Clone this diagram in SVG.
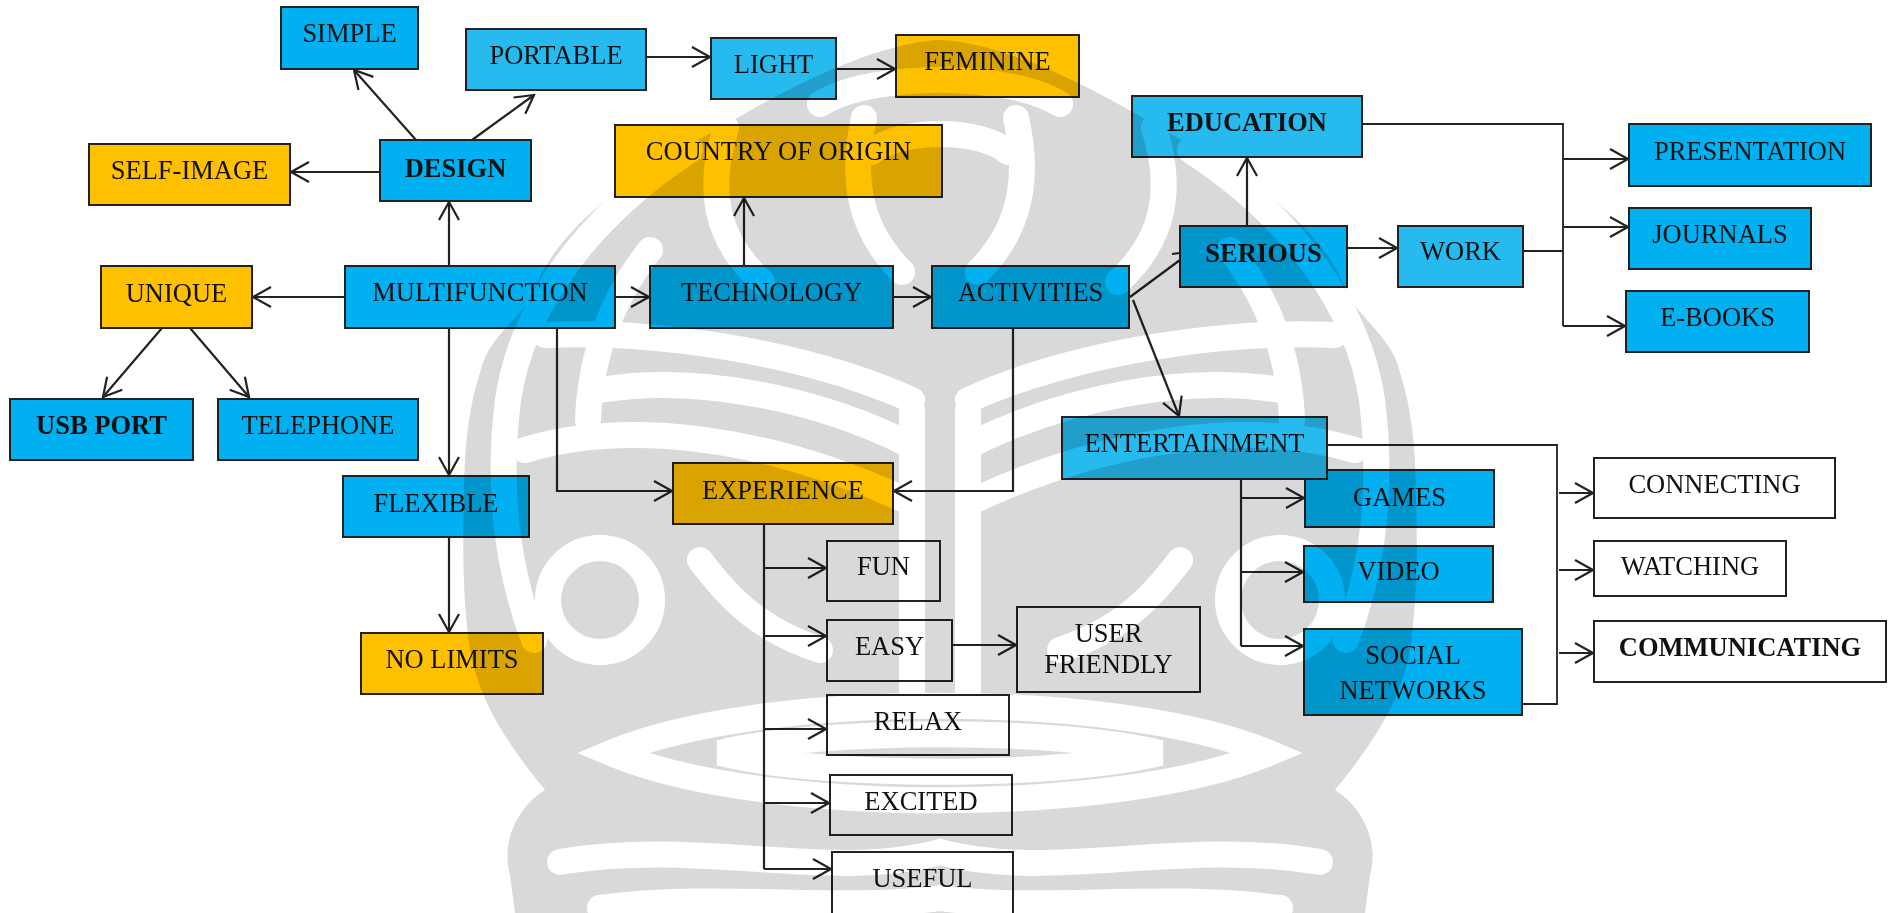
<svg xmlns="http://www.w3.org/2000/svg" width="1890" height="913" viewBox="0 0 1890 913">
  <defs>
    <marker id="ah" markerUnits="userSpaceOnUse" markerWidth="26" markerHeight="26" viewBox="-22 -13 26 26" refX="0" refY="0" orient="auto" overflow="visible">
      <path d="M-18,-10 L0,0 L-18,10" fill="none" stroke="#222" stroke-width="2.2"/>
    </marker>
    <style>
      .box rect { stroke: #222; stroke-width: 2; }
      .blue rect { fill: #00B0F0; }
      .lblue rect { fill: #27BAEF; }
      .gold rect { fill: #FFC000; }
      .white rect { fill: #FFFFFF; }
      .box text { font-family: "Liberation Serif", "Times New Roman", serif; font-size: 26.5px; text-anchor: middle; fill: #111; }
      .box.bold text { font-weight: bold; }
      #connectors path { fill: none; stroke: #222; stroke-width: 2.2; }
      #connectors .thin { stroke-width: 1.8; }
      #connectors .arrow { marker-end: url(#ah); }
      #watermark { mix-blend-mode: multiply; }
      #watermark .cut { fill: none; stroke: #FFFFFF; stroke-linecap: round; }
    </style>
  </defs>

  <rect width="1890" height="913" fill="#FFFFFF"/>

  <!-- connectors -->
  <g id="connectors">
    <path class="arrow" d="M416,140 L354,70"/>
    <path class="arrow" d="M472,140 L534,95"/>
    <path class="arrow" d="M380,172 L291,172"/>
    <path class="arrow" d="M449,266 L449,202"/>
    <path class="arrow" d="M345,297 L253,297"/>
    <path class="arrow" d="M162,328 L103,397"/>
    <path class="arrow" d="M190,328 L249,397"/>
    <path class="arrow" d="M449,328 L449,475"/>
    <path class="arrow" d="M449,537 L449,632"/>
    <path class="arrow" d="M557,328 L557,491 L672,491"/>
    <path class="arrow" d="M615,297 L649,297"/>
    <path class="arrow" d="M744,266 L744,198"/>
    <path class="arrow" d="M893,297 L931,297"/>
    <path class="arrow" d="M646,57 L710,57"/>
    <path class="arrow" d="M836,69 L895,69"/>
    <path class="arrow" d="M1013,328 L1013,491 L894,491"/>
    <path d="M1130,297 L1180,260"/>
    <path d="M1172,254 L1180,253"/>
    <path class="arrow" d="M1133,300 L1179,416"/>
    <path class="arrow" d="M1247,226 L1247,158"/>
    <path class="arrow" d="M1347,248 L1397,248"/>
    <path class="thin" d="M1362,124 L1563,124 L1563,326"/>
    <path class="thin" d="M1523,251 L1563,251"/>
    <path class="arrow" d="M1563,159 L1628,159"/>
    <path class="arrow" d="M1563,227 L1628,227"/>
    <path class="arrow" d="M1563,326 L1625,326"/>
    <path d="M764,524 L764,869"/>
    <path class="arrow" d="M764,568 L826,568"/>
    <path class="arrow" d="M764,636 L826,636"/>
    <path class="arrow" d="M764,729 L826,729"/>
    <path class="arrow" d="M764,803 L829,803"/>
    <path class="arrow" d="M764,869 L831,869"/>
    <path class="arrow" d="M952,645 L1016,645"/>
    <path d="M1241,479 L1241,646"/>
    <path class="arrow" d="M1241,498 L1304,498"/>
    <path class="arrow" d="M1241,572 L1303,572"/>
    <path class="arrow" d="M1241,646 L1303,646"/>
    <path class="thin" d="M1327,445 L1557,445 L1557,704 L1522,704"/>
    <path class="arrow" d="M1559,493 L1593,493"/>
    <path class="arrow" d="M1559,570 L1593,570"/>
    <path class="arrow" d="M1559,653 L1593,653"/>
  </g>

  <!-- nodes -->
  <g id="n-simple" class="box blue"><rect x="281" y="7" width="137" height="62"/><text x="349.5" y="42">SIMPLE</text></g>
  <g id="n-portable" class="box lblue"><rect x="466" y="29" width="180" height="61"/><text x="556" y="64">PORTABLE</text></g>
  <g id="n-light" class="box lblue"><rect x="711" y="38" width="125" height="61"/><text x="773.5" y="73">LIGHT</text></g>
  <g id="n-feminine" class="box gold"><rect x="896" y="35" width="183" height="62"/><text x="987.5" y="70">FEMININE</text></g>
  <g id="n-self-image" class="box gold"><rect x="89" y="144" width="201" height="61"/><text x="189.5" y="179">SELF-IMAGE</text></g>
  <g id="n-design" class="box blue bold"><rect x="380" y="140" width="151" height="61"/><text x="455.5" y="177">DESIGN</text></g>
  <g id="n-country" class="box gold"><rect x="615" y="125" width="327" height="72"/><text x="778.5" y="160">COUNTRY OF ORIGIN</text></g>
  <g id="n-education" class="box lblue bold"><rect x="1132" y="96" width="230" height="61"/><text x="1247" y="131">EDUCATION</text></g>
  <g id="n-presentation" class="box blue"><rect x="1629" y="124" width="242" height="62"/><text x="1750" y="160">PRESENTATION</text></g>
  <g id="n-journals" class="box blue"><rect x="1629" y="208" width="182" height="61"/><text x="1720" y="243">JOURNALS</text></g>
  <g id="n-ebooks" class="box blue"><rect x="1626" y="291" width="183" height="61"/><text x="1717.5" y="326">E-BOOKS</text></g>
  <g id="n-serious" class="box blue bold"><rect x="1180" y="226" width="167" height="61"/><text x="1263.5" y="262">SERIOUS</text></g>
  <g id="n-work" class="box lblue"><rect x="1398" y="226" width="125" height="61"/><text x="1460.5" y="260">WORK</text></g>
  <g id="n-unique" class="box gold"><rect x="101" y="266" width="151" height="62"/><text x="176.5" y="302">UNIQUE</text></g>
  <g id="n-multifunction" class="box blue"><rect x="345" y="266" width="270" height="62"/><text x="480" y="301">MULTIFUNCTION</text></g>
  <g id="n-technology" class="box blue"><rect x="650" y="266" width="243" height="62"/><text x="771.5" y="301">TECHNOLOGY</text></g>
  <g id="n-activities" class="box blue"><rect x="932" y="266" width="197" height="62"/><text x="1030.5" y="301">ACTIVITIES</text></g>
  <g id="n-usb" class="box blue bold"><rect x="10" y="399" width="183" height="61"/><text x="101.5" y="434">USB PORT</text></g>
  <g id="n-telephone" class="box blue"><rect x="218" y="399" width="200" height="61"/><text x="318" y="434">TELEPHONE</text></g>
  <g id="n-flexible" class="box blue"><rect x="343" y="476" width="186" height="61"/><text x="436" y="512">FLEXIBLE</text></g>
  <g id="n-nolimits" class="box gold"><rect x="361" y="633" width="182" height="61"/><text x="452" y="668">NO LIMITS</text></g>
  <g id="n-experience" class="box gold"><rect x="673" y="463" width="220" height="61"/><text x="783" y="499">EXPERIENCE</text></g>
  <g id="n-games" class="box blue"><rect x="1305" y="470" width="189" height="57"/><text x="1399.5" y="506">GAMES</text></g>
  <g id="n-entertainment" class="box lblue"><rect x="1062" y="417" width="265" height="62"/><text x="1194.5" y="452">ENTERTAINMENT</text></g>
  <g id="n-video" class="box blue"><rect x="1304" y="546" width="189" height="56"/><text x="1398.5" y="580">VIDEO</text></g>
  <g id="n-social" class="box blue"><rect x="1304" y="629" width="218" height="86"/><text x="1413" y="664">SOCIAL</text><text x="1413" y="699">NETWORKS</text></g>
  <g id="n-connecting" class="box white"><rect x="1594" y="458" width="241" height="60"/><text x="1714.5" y="493">CONNECTING</text></g>
  <g id="n-watching" class="box white"><rect x="1594" y="541" width="192" height="55"/><text x="1690" y="575">WATCHING</text></g>
  <g id="n-communicating" class="box white bold"><rect x="1594" y="621" width="292" height="61"/><text x="1740" y="656">COMMUNICATING</text></g>
  <g id="n-fun" class="box white"><rect x="827" y="541" width="113" height="60"/><text x="883.5" y="575">FUN</text></g>
  <g id="n-easy" class="box white"><rect x="827" y="620" width="125" height="61"/><text x="889.5" y="655">EASY</text></g>
  <g id="n-userfriendly" class="box white"><rect x="1017" y="607" width="183" height="85"/><text x="1108.5" y="642">USER</text><text x="1108.5" y="673">FRIENDLY</text></g>
  <g id="n-relax" class="box white"><rect x="827" y="695" width="182" height="60"/><text x="918" y="730">RELAX</text></g>
  <g id="n-excited" class="box white"><rect x="830" y="775" width="182" height="60"/><text x="921" y="810">EXCITED</text></g>
  <g id="n-useful" class="box white"><rect x="832" y="852" width="181" height="62"/><text x="922.5" y="887">USEFUL</text></g>

  <!-- faint emblem printed over the page: grey body, white ornament bands -->
  <g id="watermark">
    <path fill="#D9D9D9" d="M940,40 C890,42 820,70 737,118 C680,150 630,180 594,210 C560,240 540,270 530,300 C510,325 492,340 484,360 C470,400 464,440 464,500 C462,560 464,620 472,660 C482,700 500,735 545,790 C520,805 500,840 510,875 L515,913 L1365,913 L1370,875 C1380,840 1360,805 1335,790 C1380,735 1398,700 1408,660 C1416,620 1418,560 1416,500 C1416,440 1410,400 1396,360 C1388,340 1370,325 1350,300 C1340,270 1320,240 1286,210 C1250,180 1200,150 1143,118 C1060,70 990,42 940,40 Z"/>
    <g class="cut" stroke-width="26">
      <!-- dome -->
      <path d="M820,104 C870,72 1010,72 1060,104"/>
      <path d="M872,152 C900,128 980,128 1008,152"/>
      <!-- side crescents -->
      <path d="M690,150 C590,215 522,305 508,400 C498,480 504,560 534,640"/>
      <path d="M1190,150 C1290,215 1358,305 1372,400 C1382,480 1376,560 1346,640"/>
      <path d="M650,250 C610,300 590,360 588,420"/>
      <path d="M1230,250 C1270,300 1290,360 1292,420"/>
      <!-- flame outlines -->
      <path d="M726,128 C706,190 716,240 762,282"/>
      <path d="M1154,128 C1174,190 1164,240 1118,282"/>
      <path d="M864,118 C850,180 860,230 902,272"/>
      <path d="M1016,118 C1030,180 1020,230 978,272"/>
      <!-- branches -->
      <path d="M545,335 C650,330 800,350 912,400"/>
      <path d="M1335,335 C1230,330 1080,350 968,400"/>
      <path d="M600,390 C690,375 810,395 910,445"/>
      <path d="M1280,390 C1190,375 1070,395 970,445"/>
      <path d="M525,450 C625,420 765,435 905,500"/>
      <path d="M1355,450 C1255,420 1115,435 975,500"/>
      <!-- trunk -->
      <path d="M912,410 L912,690"/>
      <path d="M968,410 L968,690"/>
      <!-- lower curls -->
      <circle cx="600" cy="600" r="52"/>
      <circle cx="1280" cy="600" r="52"/>
      <path d="M700,560 C730,600 760,630 820,650"/>
      <path d="M1180,560 C1150,600 1120,630 1060,650"/>
      <!-- eye -->
      <path d="M611,753 C760,690 1120,690 1269,753 C1120,816 760,816 611,753 Z"/>
      <path d="M720,753 C820,728 1060,728 1160,753 C1060,778 820,778 720,753 Z"/>
      <!-- bottom scroll -->
      <path d="M560,862 C700,838 830,882 940,852 C1050,882 1180,838 1320,862"/>
      <path d="M600,908 C720,892 840,912 940,898 C1040,912 1160,892 1280,908"/>
    </g>
  </g>
</svg>
